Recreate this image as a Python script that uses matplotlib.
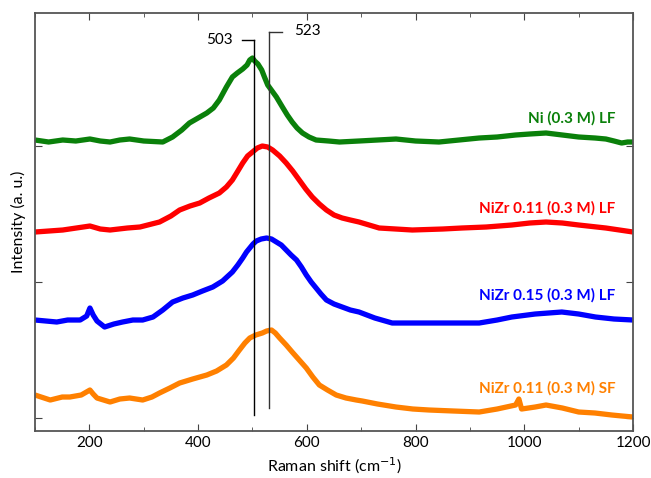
import matplotlib.pyplot as plt
import matplotlib.transforms as mtransforms

plt.rcParams["font.family"] = ["Lato", "DejaVu Sans"]

# Raman shift (cm-1) and intensity (a. u., offset stacked)
ni_x = [100, 125, 151, 175, 201, 220, 238, 256, 274, 300, 335, 353, 370, 384, 400, 416, 428,
        439, 452, 463, 472, 482, 490, 495, 500, 504, 510, 517, 522, 528, 536, 544, 555,
        564, 573, 582, 592, 604, 617, 640, 660, 696, 730, 764, 800, 843, 880, 917, 950,
        984, 1010, 1040, 1070, 1100, 1130, 1150, 1165, 1179, 1190, 1200]
ni_y = [291, 289, 291, 290, 292, 290, 289, 291, 292, 290, 289, 294, 301, 308, 313, 318, 323,
        331, 344, 354, 358, 362, 366, 371, 373, 370, 367, 361, 354, 346, 340, 334, 324,
        316, 309, 303, 298, 294, 291, 290, 289, 290, 291, 292, 290, 289, 291, 293, 294,
        296, 297, 298, 296, 294, 293, 292, 290, 288, 289, 289]

nizr11_x = [100, 151, 201, 220, 238, 270, 293, 329, 350, 366, 385, 403, 420, 439, 452, 463,
            472, 482, 491, 500, 509, 518, 528, 537, 550, 562, 574, 586, 598, 610, 623,
            636, 650, 665, 680, 696, 733, 794, 850, 885, 930, 977, 1010, 1040, 1070, 1100,
            1150, 1200]
nizr11_y = [199, 201, 205, 202, 201, 203, 204, 209, 215, 221, 225, 228, 233, 238, 244, 251,
            259, 268, 275, 279, 283, 285, 284, 281, 275, 268, 260, 251, 242, 234, 227,
            221, 216, 213, 211, 209, 203, 201, 202, 203, 204, 206, 208, 209, 208, 206,
            203, 199]

nizr15_x = [100, 120, 140, 160, 183, 195, 201, 207, 214, 228, 245, 261, 280, 298, 317, 335,
            353, 372, 390, 408, 427, 445, 463, 473, 482, 489, 495, 501, 507, 516, 526,
            535, 544, 553, 562, 571, 581, 590, 599, 608, 617, 626, 636, 650, 665, 680,
            696, 725, 757, 790, 825, 870, 917, 950, 977, 1020, 1069, 1100, 1131, 1165, 1200]
nizr15_y = [111, 110, 109, 111, 111, 115, 123, 116, 110, 104, 107, 109, 111, 111, 114, 121,
            129, 133, 136, 140, 144, 150, 159, 166, 173, 179, 183, 187, 190, 192, 193,
            192, 189, 186, 181, 176, 171, 164, 156, 149, 143, 137, 131, 127, 124, 121,
            119, 113, 108, 108, 108, 108, 108, 111, 114, 117, 119, 117, 114, 112, 111]

nizr11sf_x = [100, 128, 150, 164, 185, 201, 207, 214, 238, 256, 274, 298, 315, 329, 348, 366,
              390, 416, 434, 452, 465, 476, 486, 495, 506, 518, 526, 535, 542, 550, 562,
              573, 586, 599, 611, 623, 638, 654, 672, 691, 702, 730, 764, 795, 825, 870,
              917, 950, 984, 990, 995, 1020, 1040, 1070, 1100, 1130, 1161, 1180, 1200]
nizr11sf_y = [36, 31, 34, 34, 36, 41, 37, 33, 29, 32, 33, 31, 34, 38, 43, 48,
              52, 56, 60, 66, 73, 81, 88, 93, 96, 98, 100, 101, 98, 93, 86,
              79, 71, 63, 54, 46, 41, 36, 33, 31, 30, 27, 24, 22, 21, 20,
              19, 22, 26, 32, 22, 24, 26, 23, 19, 18, 16, 15, 14]

series = [
    (ni_x, ni_y, "#0a800a", "Ni (0.3 M) LF", 313),
    (nizr11_x, nizr11_y, "#ff0000", "NiZr 0.11 (0.3 M) LF", 223),
    (nizr15_x, nizr15_y, "#0000ff", "NiZr 0.15 (0.3 M) LF", 136),
    (nizr11sf_x, nizr11sf_y, "#ff8000", "NiZr 0.11 (0.3 M) SF", 43),
]

peak_pos = [503, 531]
peak_text = ["503", "523"]

fig = plt.figure(figsize=(6.51, 4.78), dpi=100)
ax = fig.add_axes([0.0538, 0.0983, 0.9186, 0.8745])

for xs, ys, col, name, ylab in series:
    ax.plot(xs, ys, color=col, lw=3.8, solid_joinstyle="round", solid_capstyle="butt")
    ax.text(1168, ylab, name, color=col, fontsize=11, fontweight="bold",
            ha="right", va="center")

# peak marker lines
trans = mtransforms.blended_transform_factory(ax.transData, ax.transAxes)
ax.axvline(peak_pos[0], ymin=0.038, ymax=0.935, color="black", lw=1)
ax.plot([peak_pos[0] - 23, peak_pos[0]], [0.935, 0.935], color="black", lw=1, transform=trans)
ax.text(440, 0.935, peak_text[0], fontsize=11, ha="center", va="center", transform=trans)
ax.axvline(peak_pos[1], ymin=0.055, ymax=0.955, color="#333333", lw=1)
ax.plot([peak_pos[1], peak_pos[1] + 24], [0.955, 0.955], color="#333333", lw=1, transform=trans)
ax.text(601, 0.957, peak_text[1], fontsize=11, ha="center", va="center", transform=trans)

ax.set_xlim(100, 1200)
ax.set_ylim(0, 418)
ax.set_xticks(range(200, 1201, 200))
ax.set_xticks(range(100, 1201, 100), minor=True)
ax.set_yticks([13, 149, 285])
ax.set_yticklabels([])
ax.tick_params(direction="in", top=True, right=True, labelsize=11, length=5, color="#444444")
ax.tick_params(which="minor", direction="in", top=True, length=3, color="#444444")
for sp in ax.spines.values():
    sp.set_color("#555555")
    sp.set_linewidth(1.3)

ax.set_xlabel("Raman shift (cm$^{-1}$)", fontsize=11.5, labelpad=4)
ax.set_ylabel("Intensity (a. u.)", fontsize=11.5, labelpad=3)

fig.savefig("out.png", dpi=100)
